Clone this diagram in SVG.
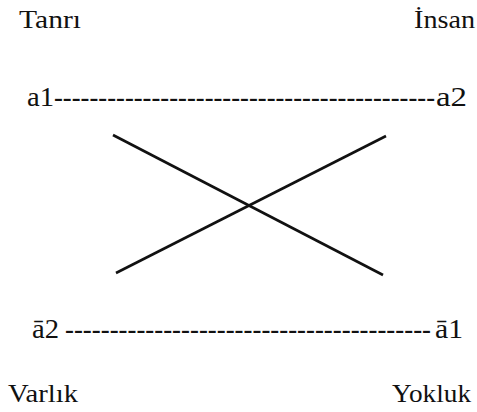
<svg xmlns="http://www.w3.org/2000/svg" width="477" height="412" viewBox="0 0 477 412">
  <style>
    .lbl { font-family: 'Liberation Serif', 'Times New Roman', 'DejaVu Serif', serif; font-size: 25px; fill: #111; }
    .term { font-size: 27px; }
    .dash { font-weight: bold; }
    .cross { stroke: #111; stroke-width: 2.6; stroke-linecap: butt; fill: none; }
  </style>
  <rect width="477" height="412" fill="#fff"/>

  <!-- corner terms -->
  <g id="tanri"><text class="lbl" x="19" y="28" textLength="62" lengthAdjust="spacingAndGlyphs">Tanrı</text></g>
  <g id="insan"><text class="lbl" x="414" y="28" textLength="61" lengthAdjust="spacingAndGlyphs">İnsan</text></g>
  <g id="varlik"><text class="lbl" x="8" y="402" textLength="70" lengthAdjust="spacingAndGlyphs">Varlık</text></g>
  <g id="yokluk"><text class="lbl" x="392" y="402" textLength="79" lengthAdjust="spacingAndGlyphs">Yokluk</text></g>

  <!-- contrary pair -->
  <g id="a1"><text class="lbl term" x="27" y="106" textLength="27" lengthAdjust="spacingAndGlyphs">a1</text></g>
  <g id="a2"><text class="lbl term" x="436" y="106" textLength="31" lengthAdjust="spacingAndGlyphs">a2</text></g>
  <!-- subcontrary pair -->
  <g id="a2bar"><text class="lbl term" x="32" y="338" textLength="27" lengthAdjust="spacingAndGlyphs">ā2</text></g>
  <g id="a1bar"><text class="lbl term" x="435" y="338" textLength="28" lengthAdjust="spacingAndGlyphs">ā1</text></g>

  <g id="connectors">
    <text class="lbl dash" x="54" y="106" textLength="381" lengthAdjust="spacingAndGlyphs">-------------------------------------------</text>
    <text class="lbl dash" x="65" y="338" textLength="366" lengthAdjust="spacingAndGlyphs">-----------------------------------------</text>
    <line class="cross" x1="113" y1="135" x2="383" y2="275"/>
    <line class="cross" x1="116" y1="273" x2="386" y2="136"/>
  </g>
</svg>
